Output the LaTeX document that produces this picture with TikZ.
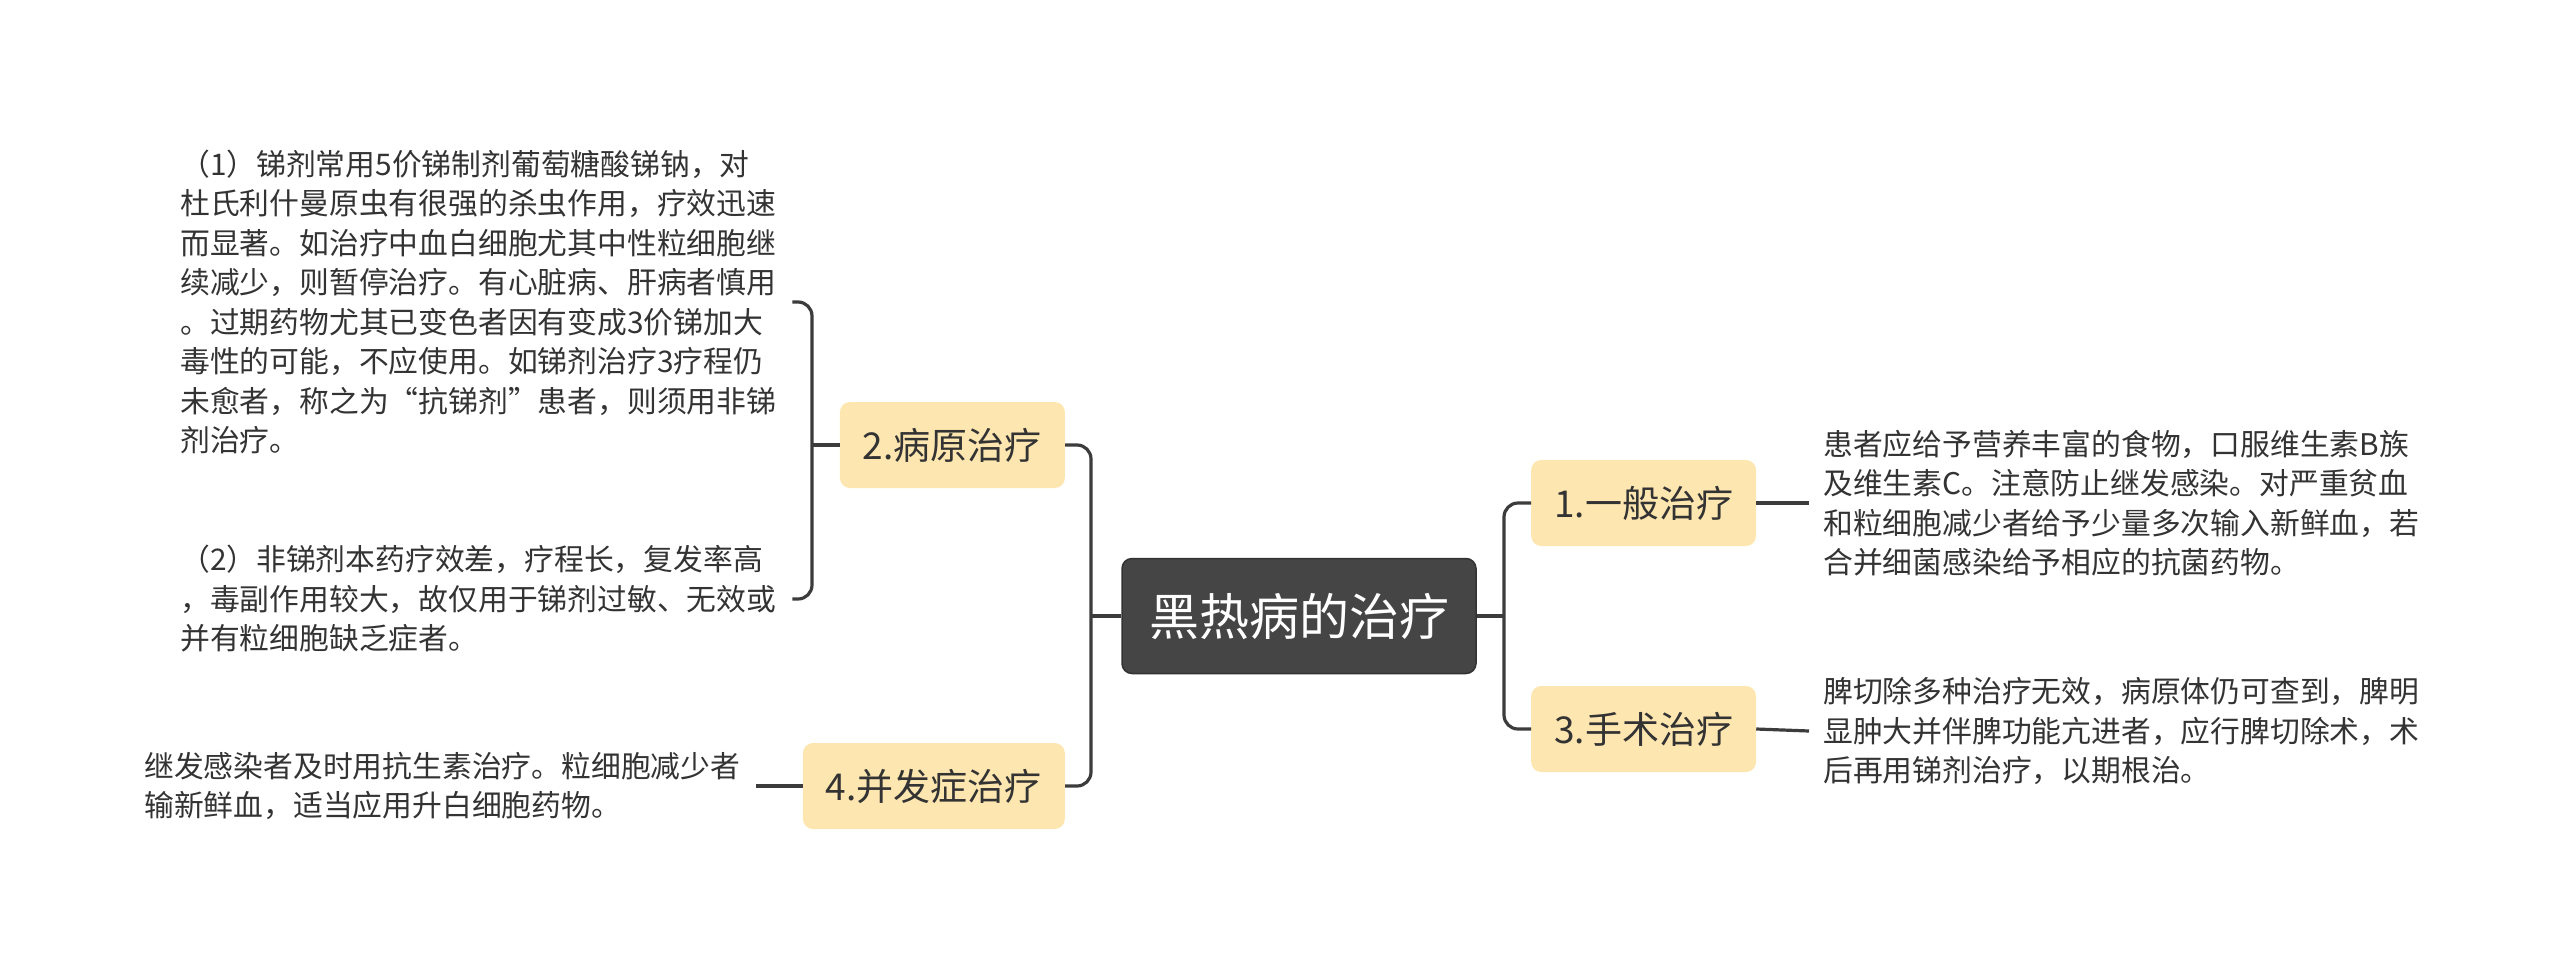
\documentclass[tikz,border=0pt]{standalone}
\usepackage{fontspec}
\setmainfont{Noto Sans CJK SC}
\definecolor{linecol}{HTML}{3C3C3C}
\definecolor{rootfill}{HTML}{454545}
\definecolor{rootdraw}{HTML}{333333}
\definecolor{branchfill}{HTML}{FDE6B0}
\definecolor{textcol}{HTML}{333333}
\begin{document}
\begin{tikzpicture}[x=1pt,y=-1pt,
  rootnode/.style={draw=rootdraw,line width=1.5pt,fill=rootfill,rounded corners=10pt,
    text=white,font=\fontsize{50}{60}\selectfont,inner xsep=27pt,minimum height=115pt},
  branchnode/.style={fill=branchfill,rounded corners=10pt,text=textcol,
    font=\fontsize{37}{44}\selectfont,inner xsep=23pt,minimum height=86pt},
  leafnode/.style={text=textcol,font=\fontsize{29.8}{39.5}\selectfont,align=left,inner ysep=0pt},
  conn/.style={draw=linecol,line width=3.2pt},
  bendline/.style={conn,rounded corners=14pt}]
\useasboundingbox (0,0) rectangle (2560,967);

\node[rootnode] (c) at (1299,616) {黑热病的治疗};

\node[branchnode,anchor=east] (b2) at (1065,445) {2.病原治疗};
\node[branchnode,anchor=east] (b4) at (1065,786) {4.并发症治疗};
\node[branchnode,anchor=west] (b1) at (1531,503) {1.一般治疗};
\node[branchnode,anchor=west] (b3) at (1531,729) {3.手术治疗};

\node[leafnode,anchor=west,inner xsep=8pt,text width=604pt] (l1) at (172,302) {（1）锑剂常用5价锑制剂葡萄糖酸锑钠，对\\
杜氏利什曼原虫有很强的杀虫作用，疗效迅速\\
而显著。如治疗中血白细胞尤其中性粒细胞继\\
续减少，则暂停治疗。有心脏病、肝病者慎用\\
。过期药物尤其已变色者因有变成3价锑加大\\
毒性的可能，不应使用。如锑剂治疗3疗程仍\\
未愈者，称之为“抗锑剂”患者，则须用非锑\\
剂治疗。};

\node[leafnode,anchor=west,inner xsep=8pt,text width=604pt] (l2) at (172,599) {（2）非锑剂本药疗效差，疗程长，复发率高\\
，毒副作用较大，故仅用于锑剂过敏、无效或\\
并有粒细胞缺乏症者。};

\node[leafnode,anchor=west,inner xsep=8pt,text width=604pt] (l4) at (136,786) {继发感染者及时用抗生素治疗。粒细胞减少者\\
输新鲜血，适当应用升白细胞药物。};

\node[leafnode,anchor=west,inner xsep=14pt] (r1) at (1809,503) {患者应给予营养丰富的食物，口服维生素B族\\
及维生素C。注意防止继发感染。对严重贫血\\
和粒细胞减少者给予少量多次输入新鲜血，若\\
合并细菌感染给予相应的抗菌药物。};

\node[leafnode,anchor=west,inner xsep=14pt] (r3) at (1809,731) {脾切除多种治疗无效，病原体仍可查到，脾明\\
显肿大并伴脾功能亢进者，应行脾切除术，术\\
后再用锑剂治疗，以期根治。};

\coordinate (jl) at (1091,616);
\coordinate (jr) at (1504,616);
\coordinate (j2) at (812,445);

\draw[conn] (c.west) -- (jl);
\draw[bendline] (b2.east) -| (jl) |- (b4.east);
\draw[conn] (c.east) -- (jr);
\draw[bendline] (b1.west) -| (jr) |- (b3.west);

\draw[conn] (b2.west) -- (j2);
\draw[bendline] (l1.east) -| (j2) |- (l2.east);
\draw[conn] (b4.west) -- (l4.east);
\draw[conn] (b1.east) -- (r1.west);
\draw[conn] (b3.east) -- (r3.west);
\end{tikzpicture}
\end{document}
